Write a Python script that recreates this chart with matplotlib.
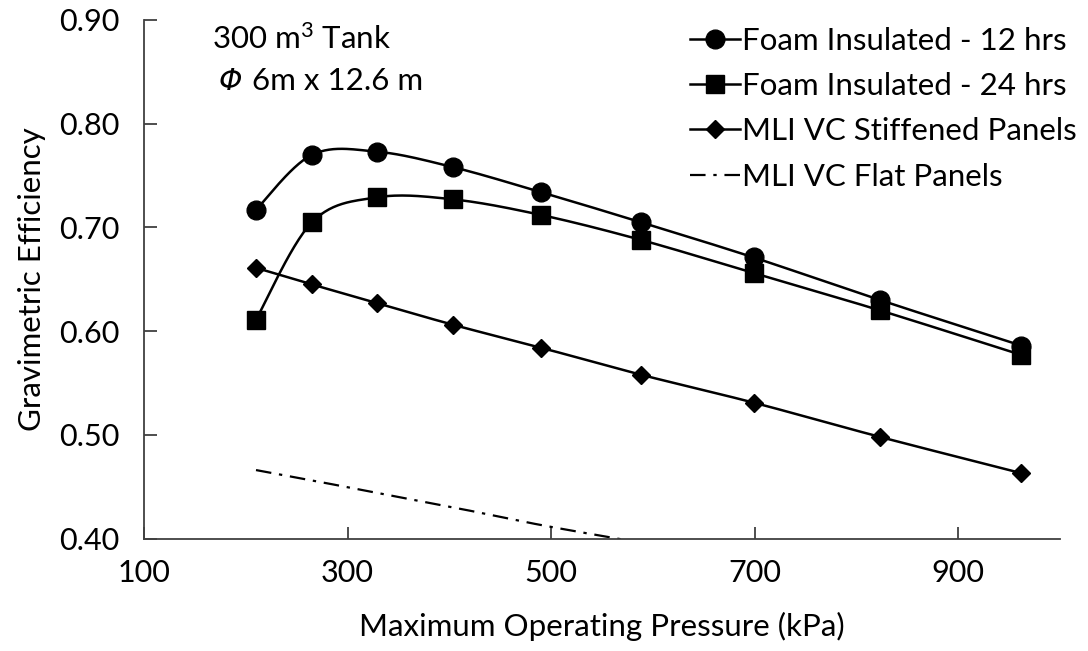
import numpy as np
import matplotlib
matplotlib.use("Agg")
import matplotlib.pyplot as plt
from matplotlib.lines import Line2D

plt.rcParams['font.family'] = ['Lato', 'DejaVu Sans']
plt.rcParams['mathtext.fontset'] = 'custom'
plt.rcParams['mathtext.rm'] = 'Lato'
plt.rcParams['mathtext.it'] = 'Lato:italic'

# ---- data ----
pressure = [210, 265, 329, 404, 490, 588, 699, 823, 962]
foam_12 = [0.717, 0.770, 0.773, 0.758, 0.734, 0.705, 0.671, 0.630, 0.586]
foam_24 = [0.611, 0.705, 0.729, 0.727, 0.712, 0.688, 0.656, 0.620, 0.577]
mli_stiff = [0.661, 0.645, 0.627, 0.606, 0.584, 0.558, 0.531, 0.498, 0.463]
flat_x = [210, 265, 329, 404, 490, 588]
mli_flat = [0.466, 0.456, 0.444, 0.430, 0.413, 0.396]

labels = ["Foam Insulated - 12 hrs", "Foam Insulated - 24 hrs",
          "MLI VC Stiffened Panels", "MLI VC Flat Panels"]
xticks = [100, 300, 500, 700, 900]
yticks = [0.40, 0.50, 0.60, 0.70, 0.80, 0.90]

W, H = 1088, 651
fig = plt.figure(figsize=(W / 100, H / 100), dpi=100)
ax = fig.add_axes([0.1324, 0.1728, 0.9743 - 0.1324, 0.9693 - 0.1728])
ax.set_xlim(100, 1000)
ax.set_ylim(0.40, 0.90)


def smooth(ax, xs, ys, n=30):
    """Excel-like smoothed curve (Catmull-Rom Bezier) computed in display space."""
    pts = ax.transData.transform(np.column_stack([xs, ys]))
    P = np.vstack([pts[0], pts, pts[-1]])
    out = []
    t = np.linspace(0, 1, n)[:, None]
    for i in range(1, len(P) - 2):
        p0, p3 = P[i], P[i + 1]
        c1 = p0 + (P[i + 1] - P[i - 1]) / 6.0
        c2 = p3 - (P[i + 2] - P[i]) / 6.0
        seg = ((1 - t) ** 3) * p0 + 3 * ((1 - t) ** 2) * t * c1 + 3 * (1 - t) * t ** 2 * c2 + t ** 3 * p3
        out.append(seg if i == 1 else seg[1:])
    out = np.vstack(out)
    d = ax.transData.inverted().transform(out)
    return d[:, 0], d[:, 1]


lw = 1.8
dashdot = (0, (7, 3.5, 1.5, 3.5))
styles = [('o', 13.5), ('s', 13.0), ('D', 9.5)]
for ys, (mk, ms) in zip([foam_12, foam_24, mli_stiff], styles):
    sx, sy = smooth(ax, pressure, ys)
    ax.plot(sx, sy, color='black', lw=lw, zorder=2)
    ax.plot(pressure, ys, linestyle='none', marker=mk, ms=ms, color='black', zorder=3)

fx, fy = smooth(ax, flat_x, mli_flat)
ax.plot(fx, fy, color='black', lw=1.6, linestyle=dashdot, zorder=2)

for s in ['top', 'right']:
    ax.spines[s].set_visible(False)
for s in ['left', 'bottom']:
    ax.spines[s].set_color('#404040')
    ax.spines[s].set_linewidth(1.3)

ax.set_xticks(xticks)
ax.set_xticklabels([str(v) for v in xticks])
ax.set_yticks(yticks)
ax.set_yticklabels([f"{v:.2f}" for v in yticks])
ax.tick_params(axis='both', direction='in', length=9, width=1.3, color='#404040',
               labelsize=22, colors='black')
ax.tick_params(axis='y', pad=18)
ax.tick_params(axis='x', pad=15)

FS = 22.5
ax.set_xlabel("Maximum Operating Pressure (kPa)", fontsize=FS, labelpad=18)
ax.set_ylabel("Gravimetric Efficiency", fontsize=FS, labelpad=9)

fig.text(212 / W, 1 - 49 / H, "300 m$^3$ Tank", fontsize=FS, ha='left', va='baseline')
fig.text(219 / W, 1 - 90 / H, "\u03A6", fontsize=FS - 1, family='DejaVu Sans',
         style='italic', ha='left', va='baseline')
fig.text(252 / W, 1 - 90 / H, "6m x 12.6 m", fontsize=FS, ha='left', va='baseline')

handles = [
    Line2D([], [], color='black', lw=lw, marker='o', ms=13.5),
    Line2D([], [], color='black', lw=lw, marker='s', ms=13.0),
    Line2D([], [], color='black', lw=lw, marker='D', ms=9.5),
    Line2D([], [], color='black', lw=1.6, linestyle=dashdot),
]
fig.legend(handles, labels, loc='upper left', bbox_to_anchor=(690 / W, 1 - 27 / H),
           frameon=False, fontsize=FS, handlelength=1.6, handletextpad=0.08,
           labelspacing=0.55, borderpad=0.0, borderaxespad=0.0)

fig.savefig("out.png", dpi=100)
